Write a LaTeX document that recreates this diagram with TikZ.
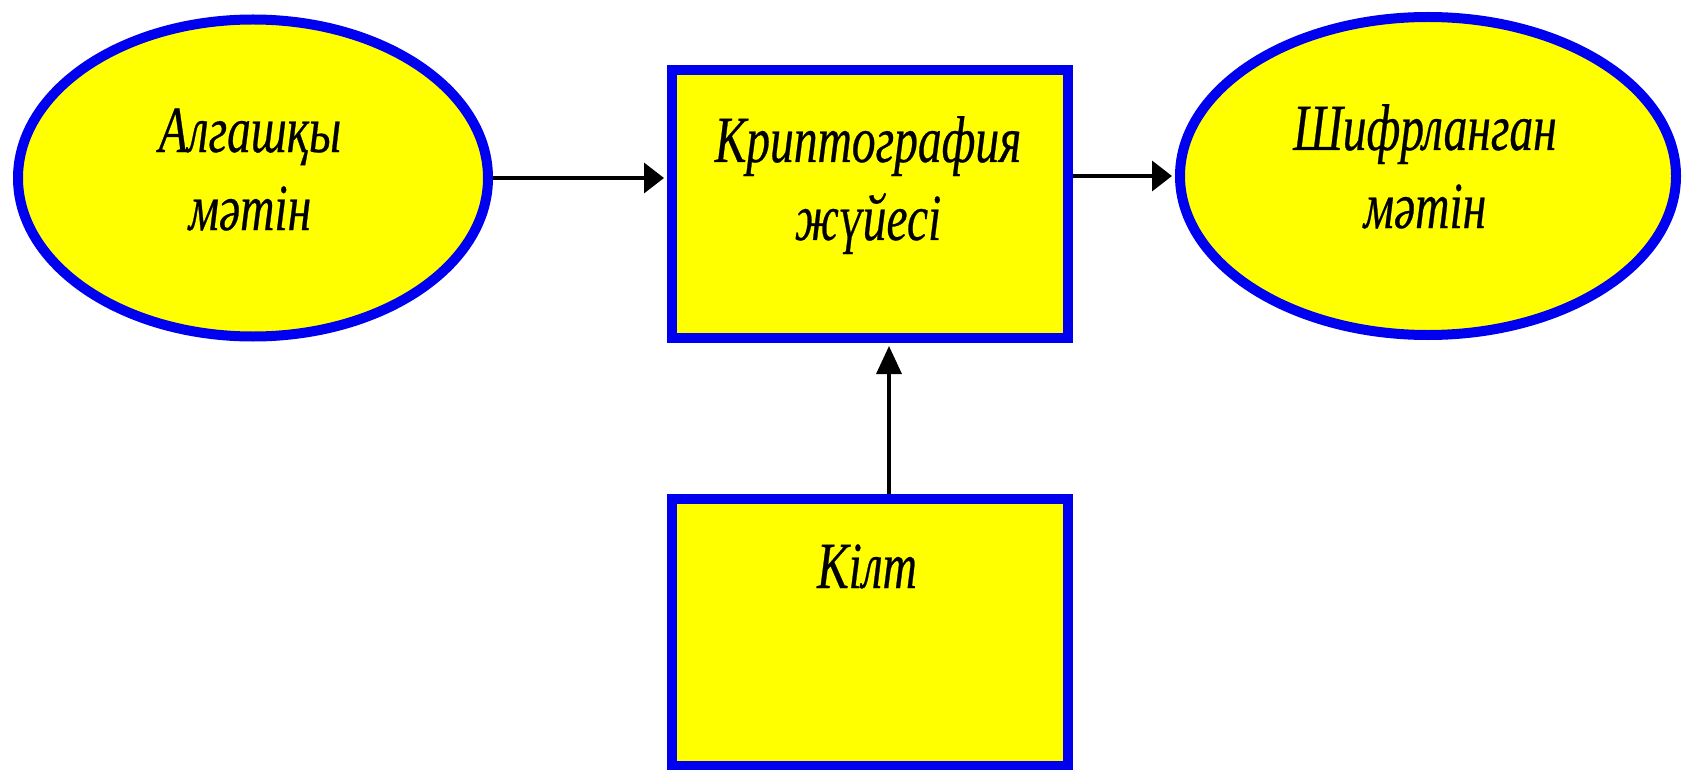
\documentclass[tikz,border=0pt]{standalone}
\usepackage{fontspec}
\setmainfont{Liberation Serif}[FakeStretch=0.72, FakeBold=0.4]
\usetikzlibrary{shapes.geometric,arrows.meta}
\definecolor{kzblue}{RGB}{0,0,240}
\definecolor{kzyellow}{RGB}{255,255,0}
\begin{document}
\begin{tikzpicture}[x=1pt,y=-1pt,
  blk/.style={draw=kzblue, fill=kzyellow, line width=10pt, inner sep=0pt},
  oval/.style={blk, ellipse},
  panel/.style={blk, rectangle, minimum width=396pt},
  lbl/.style={font=\fontsize{66}{78}\selectfont\itshape, align=center, anchor=base, inner sep=0pt},
  arr/.style={-{Triangle[length=20pt,width=30pt]}, line width=3.5pt, shorten >=3pt},
  uparr/.style={-{Triangle[length=28pt,width=25pt]}, line width=3.5pt, shorten >=3pt},
]
\useasboundingbox (0,0) rectangle (1683,770);

% shapes
\node[oval, minimum width=470pt, minimum height=317pt] (plain) at (253,178) {};
\node[panel, minimum height=268pt] (crypto) at (870,204) {};
\node[oval, minimum width=496pt, minimum height=318pt] (cipher) at (1428,176) {};
\node[panel, minimum height=267pt] (key) at (870,632) {};

% labels (anchored at the baseline of the last line)
\node[lbl] (plaintext) at (250,230) {Алгашқы\\мәтін};
\node[lbl] (cryptotext) at (868,240) {Криптография\\жүйесі};
\node[lbl] (ciphertext) at (1425,228) {Шифрланган\\мәтін};
\node[lbl] (keytext) at (867,588) {Кілт};

% connectors
\draw[arr] (plain.east) -- (plain.east -| crypto.west);
\draw[arr] (cipher.west -| crypto.east) -- (cipher.west);
\draw[uparr] ([xshift=19pt]key.north) -- ([xshift=19pt]crypto.south);
\end{tikzpicture}
\end{document}
